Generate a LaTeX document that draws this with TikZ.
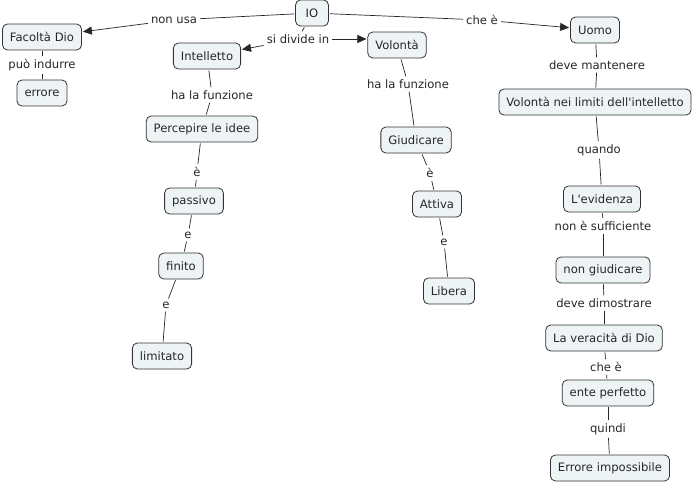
\documentclass[tikz,border=0pt]{standalone}
\usepackage{fontspec}
\setmainfont{DejaVu Sans}
\usetikzlibrary{arrows.meta}
\definecolor{boxfill}{HTML}{EEF3F5}
\definecolor{boxline}{HTML}{333333}
\newcommand{\apos}{\XeTeXglyph\XeTeXglyphindex "quotesingle"\relax}
\begin{document}
\begin{tikzpicture}[x=1pt,y=-1pt,
  concept/.style={draw=boxline,line width=0.8pt,rounded corners=5pt,fill=boxfill,minimum height=26pt,minimum width=33pt,inner xsep=7.5pt,font=\fontsize{11.6}{13}\selectfont,text=black!85},
  lab/.style={inner sep=2pt,font=\fontsize{11.6}{13}\selectfont,text=black!85},
  link/.style={draw=black!85,line width=0.7pt,shorten <=1pt,shorten >=1pt},
  arr/.style={link,-{Triangle[length=9pt,width=8pt]}}]
\useasboundingbox (0,0) rectangle (700,485);
% concepts
\node[concept] (io) at (312,13) {IO};
\node[concept] (fac) at (42,37) {Facoltà Dio};
\node[concept] (err) at (42,93) {errore};
\node[concept] (int) at (207,56) {Intelletto};
\node[concept] (vol) at (397,45) {Volontà};
\node[concept] (uomo) at (595,30) {Uomo};
\node[concept] (vnl) at (595,102) {Volontà nei limiti dell\apos intelletto};
\node[concept] (perc) at (202,129) {Percepire le idee};
\node[concept] (giu) at (416,140) {Giudicare};
\node[concept] (pas) at (194,201) {passivo};
\node[concept] (att) at (437,204) {Attiva};
\node[concept] (fin) at (181,266) {finito};
\node[concept] (lib) at (449,291) {Libera};
\node[concept] (lim) at (162,356) {limitato};
\node[concept] (evi) at (602,199) {L\apos evidenza};
\node[concept] (ngiu) at (603,270) {non giudicare};
\node[concept] (ver) at (604,338) {La veracità di Dio};
\node[concept] (ente) at (608,393) {ente perfetto};
\node[concept] (eimp) at (610,468) {Errore impossibile};
% labels
\node[lab] (l1) at (174,20) {non usa};
\node[lab] (l2) at (298,39) {si divide in};
\node[lab] (l3) at (482,20) {che è};
\node[lab] (l4) at (42,65) {può indurre};
\node[lab] (l5) at (212,95) {ha la funzione};
\node[lab] (l6) at (408,84) {ha la funzione};
\node[lab] (l7) at (197,172) {è};
\node[lab] (l8) at (188,235) {e};
\node[lab] (l9) at (166,305) {e};
\node[lab] (l10) at (430,173) {è};
\node[lab] (l11) at (444,242) {e};
\node[lab] (l12) at (597,65) {deve mantenere};
\node[lab] (l13) at (599,150) {quando};
\node[lab] (l14) at (603,226) {non è sufficiente};
\node[lab] (l15) at (604,303) {deve dimostrare};
\node[lab] (l16) at (606,367) {che è};
\node[lab] (l17) at (608,429) {quindi};
% connectors
\draw[link] (io) -- (l1);
\draw[arr] (l1) -- (fac);
\draw[link] (io) -- (l2);
\draw[arr] (l2) -- (int);
\draw[arr] (l2.east) -- (vol.west|-l2.east);
\draw[link] (io) -- (l3);
\draw[arr] (l3) -- (uomo);
\draw[link] (fac) -- (l4);
\draw[link] (l4) -- (err);
\draw[link] (int) -- (l5);
\draw[link] (l5) -- (perc);
\draw[link] (vol) -- (l6);
\draw[link] (l6) -- (giu);
\draw[link] (perc) -- (l7);
\draw[link] (l7) -- (pas);
\draw[link] (pas) -- (l8);
\draw[link] (l8) -- (fin);
\draw[link] (fin) -- (l9);
\draw[link] (l9) -- (lim);
\draw[link] (giu) -- (l10);
\draw[link] (l10) -- (att);
\draw[link] (att) -- (l11);
\draw[link] (l11) -- (lib);
\draw[link] (uomo) -- (l12);
\draw[link] (l12) -- (vnl);
\draw[link] (vnl) -- (l13);
\draw[link] (l13) -- (evi);
\draw[link] (evi) -- (l14);
\draw[link] (l14) -- (ngiu);
\draw[link] (ngiu) -- (l15);
\draw[link] (l15) -- (ver);
\draw[link] (ver) -- (l16);
\draw[link] (l16) -- (ente);
\draw[link] (ente) -- (l17);
\draw[link] (l17) -- (eimp);
\end{tikzpicture}
\end{document}
